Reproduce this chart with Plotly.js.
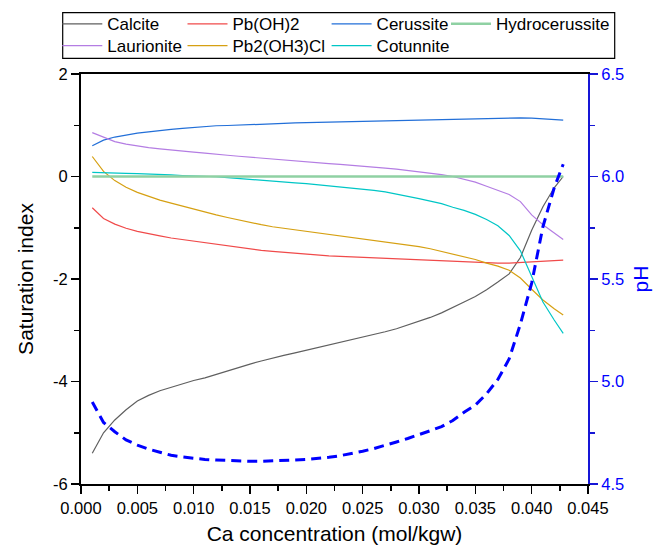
<!DOCTYPE html>
<html>
<head>
<meta charset="utf-8">
<script src="https://cdn.plot.ly/plotly-3.0.1.min.js"></script>
<style>html,body{margin:0;padding:0;background:#fff;}#chart{width:654px;height:546px;}</style>
</head>
<body>
<div id="chart"></div>
<script>
var caConc = [0.001,0.002,0.003,0.004,0.005,0.006,0.007,0.008,0.009,0.010,
  0.011,0.012,0.013,0.014,0.015,0.016,0.017,0.018,0.019,0.020,
  0.021,0.022,0.023,0.024,0.025,0.026,0.027,0.028,0.029,0.030,
  0.031,0.032,0.033,0.034,0.035,0.036,0.037,0.038,0.039,0.040,
  0.041,0.042,0.0428];

var calcite = [-5.40,-5.00,-4.75,-4.55,-4.38,-4.27,-4.18,-4.11,-4.04,-3.98,
  -3.93,-3.86,-3.79,-3.72,-3.66,-3.60,-3.54,-3.49,-3.44,-3.39,
  -3.34,-3.29,-3.24,-3.19,-3.14,-3.09,-3.03,-2.97,-2.90,-2.83,
  -2.75,-2.66,-2.56,-2.45,-2.34,-2.21,-2.06,-1.90,-1.58,-1.05,
  -0.59,-0.22,0.00];

var pbOH2 = [-0.61,-0.82,-0.93,-1.01,-1.07,-1.12,-1.16,-1.20,-1.23,-1.26,
  -1.30,-1.33,-1.36,-1.39,-1.42,-1.44,-1.46,-1.48,-1.50,-1.52,
  -1.53,-1.55,-1.56,-1.57,-1.58,-1.59,-1.60,-1.61,-1.62,-1.63,
  -1.64,-1.65,-1.66,-1.67,-1.68,-1.69,-1.69,-1.69,-1.68,-1.67,
  -1.66,-1.64,-1.63];

var cerussite = [0.60,0.71,0.77,0.81,0.845,0.87,0.90,0.92,0.94,0.96,
  0.975,0.99,0.995,1.00,1.01,1.02,1.025,1.035,1.045,1.05,
  1.055,1.06,1.07,1.075,1.08,1.085,1.09,1.095,1.10,1.105,
  1.11,1.115,1.12,1.125,1.13,1.135,1.14,1.145,1.145,1.14,
  1.13,1.115,1.10];

var hydrocerussite = [0,0,0,0,0,0,0,0,0,0,
  0,0,0,0,0,0,0,0,0,0,
  0,0,0,0,0,0,0,0,0,0,
  0,0,0,0,0,0,0,0,0,0,
  0,0,0];

var laurionite = [0.855,0.76,0.68,0.63,0.595,0.565,0.54,0.515,0.495,0.475,
  0.455,0.43,0.415,0.395,0.375,0.355,0.335,0.315,0.295,0.28,
  0.265,0.25,0.235,0.22,0.20,0.185,0.165,0.145,0.12,0.095,
  0.065,0.035,0.00,-0.05,-0.11,-0.19,-0.27,-0.35,-0.49,-0.75,
  -0.94,-1.10,-1.23];

var pb2OH3Cl = [0.39,0.10,-0.08,-0.21,-0.31,-0.39,-0.46,-0.52,-0.58,-0.63,
  -0.70,-0.75,-0.80,-0.85,-0.90,-0.94,-0.98,-1.01,-1.04,-1.07,
  -1.10,-1.13,-1.16,-1.18,-1.21,-1.24,-1.27,-1.30,-1.33,-1.37,
  -1.41,-1.46,-1.51,-1.56,-1.62,-1.69,-1.75,-1.83,-1.98,-2.20,
  -2.41,-2.58,-2.70];

var cotunnite = [0.08,0.07,0.065,0.06,0.055,0.05,0.04,0.03,0.02,0.015,
  0.005,-0.005,-0.02,-0.04,-0.06,-0.08,-0.09,-0.11,-0.125,-0.14,
  -0.16,-0.18,-0.20,-0.22,-0.24,-0.27,-0.30,-0.34,-0.38,-0.43,
  -0.48,-0.53,-0.60,-0.66,-0.74,-0.84,-0.96,-1.15,-1.45,-1.95,
  -2.45,-2.80,-3.06];

var pH = [4.90,4.80,4.755,4.715,4.69,4.67,4.655,4.64,4.632,4.625,
  4.62,4.617,4.614,4.612,4.611,4.611,4.612,4.614,4.617,4.62,
  4.624,4.63,4.638,4.648,4.66,4.673,4.688,4.705,4.722,4.74,
  4.76,4.78,4.81,4.85,4.885,4.94,5.01,5.11,5.28,5.48,
  5.755,5.945,6.06];

var seriesNames = ["Calcite","Pb(OH)2","Cerussite","Hydrocerussite","Laurionite","Pb2(OH3)Cl","Cotunnite"];
var yTickVals = [-6,-4,-2,0,2];
var yTickText = ["-6","-4","-2","0","2"];

var FONT = "Liberation Sans, Arial, sans-serif";
var BLUE = "#0000ff";
var AXBLUE = "#1616d6";

function line(name, y, color, width, legendId) {
  return {x: caConc, y: y, name: name, type: "scatter", mode: "lines",
    line: {color: color, width: width}, legend: legendId, xaxis: "x", yaxis: "y"};
}

var traces = [
  line(seriesNames[0], calcite, "#5f5f5f", 1.2, "legend"),
  line(seriesNames[1], pbOH2, "#f04a4a", 1.2, "legend2"),
  line(seriesNames[2], cerussite, "#226fd8", 1.2, "legend3"),
  line(seriesNames[4], laurionite, "#b47de3", 1.2, "legend5"),
  line(seriesNames[5], pb2OH3Cl, "#d6a012", 1.2, "legend6"),
  line(seriesNames[6], cotunnite, "#00c6c6", 1.2, "legend7"),
  line(seriesNames[3], hydrocerussite, "#8fd1a3", 2.5, "legend4"),
  {x: caConc, y: pH, name: "pH", type: "scatter", mode: "lines", yaxis: "y2",
    line: {color: BLUE, width: 3, dash: "10px,6px"}, showlegend: false}
];

// legend layout helper: textStartPx = left edge of the label text, rowTopPx = top of legend box
function leg(textStartPx, rowTopPx) {
  return {x: (textStartPx - 52 - 81) / 507, xanchor: "left",
    y: (484 - rowTopPx) / 410, yanchor: "top",
    orientation: "v", bgcolor: "rgba(0,0,0,0)", borderwidth: 0,
    font: {family: FONT, size: 17, color: "#000"}, itemwidth: 40};
}

var layout = {
  width: 654, height: 546,
  margin: {l: 81, r: 66, t: 74, b: 62, pad: 0, autoexpand: false},
  paper_bgcolor: "#fff", plot_bgcolor: "#fff",
  font: {family: FONT, size: 16, color: "#000"},
  showlegend: true,
  legend: leg(109.3, 6.3),
  legend2: leg(234.5, 6.3),
  legend3: leg(378.6, 6.3),
  legend4: leg(498, 6.3),
  legend5: leg(109.3, 28),
  legend6: leg(234.5, 28),
  legend7: leg(378.6, 28),
  xaxis: {
    range: [0, 0.045], dtick: 0.005, tick0: 0, tickformat: ".3f",
    showgrid: false, zeroline: false,
    showline: true, linecolor: "#000", linewidth: 2, mirror: true,
    ticks: "outside", ticklen: 8, tickwidth: 1.5, tickcolor: "#000",
    minor: {dtick: 0.0025, ticks: "outside", ticklen: 5, tickwidth: 1.5, tickcolor: "#000", showgrid: false},
    tickfont: {family: FONT, size: 16.5, color: "#000"},
    title: {text: "Ca concentration (mol/kgw)", font: {family: FONT, size: 21, color: "#000"}, standoff: 11}
  },
  yaxis: {
    range: [-6, 2], tickvals: yTickVals, ticktext: yTickText,
    showgrid: false, zeroline: false,
    showline: true, linecolor: "#000", linewidth: 2,
    ticks: "outside", ticklen: 8, tickwidth: 1.5, tickcolor: "#000",
    minor: {dtick: 1, ticks: "outside", ticklen: 5, tickwidth: 1.5, tickcolor: "#000", showgrid: false},
    tickfont: {family: FONT, size: 16.5, color: "#000"},
    title: {text: "Saturation index", font: {family: FONT, size: 21, color: "#000"}, standoff: 14}
  },
  yaxis2: {
    range: [4.5, 6.5], dtick: 0.5, tick0: 4.5, tickformat: ".1f",
    overlaying: "y", side: "right", anchor: "x",
    showgrid: false, zeroline: false,
    showline: true, linecolor: AXBLUE, linewidth: 2,
    ticks: "outside", ticklen: 8, tickwidth: 1.5, tickcolor: AXBLUE,
    minor: {dtick: 0.25, ticks: "outside", ticklen: 5, tickwidth: 1.5, tickcolor: AXBLUE, showgrid: false},
    tickfont: {family: FONT, size: 16.5, color: BLUE},
    title: {text: "pH", font: {family: FONT, size: 21, color: BLUE}, standoff: 10}
  },
  shapes: [{
    type: "rect", xref: "paper", yref: "paper",
    x0: (62.7 - 81) / 507, x1: (614.7 - 81) / 507,
    y0: (484 - 58.3) / 410, y1: (484 - 12.7) / 410,
    line: {color: "#000", width: 1.2}, fillcolor: "rgba(0,0,0,0)", layer: "above"
  }]
};

Plotly.newPlot("chart", traces, layout, {displayModeBar: false, staticPlot: true});
</script>
</body>
</html>
